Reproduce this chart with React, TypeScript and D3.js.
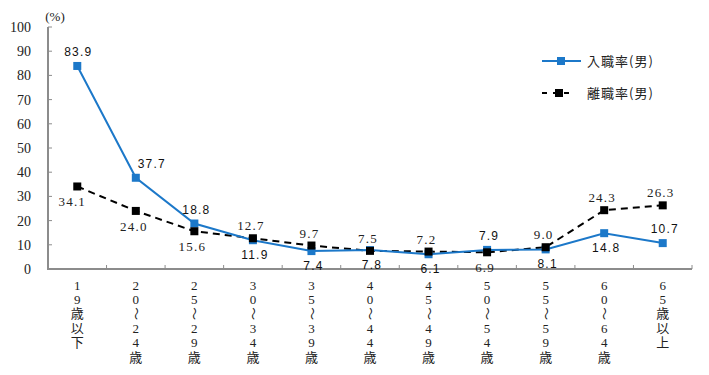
import React, { useEffect, useRef } from 'react';
import * as d3 from 'd3';

const categories = ['19歳以下', '20～24歳', '25～29歳', '30～34歳', '35～39歳', '40～44歳', '45～49歳', '50～54歳', '55～59歳', '60～64歳', '65歳以上'];
const hireRate = [83.9, 37.7, 18.8, 11.9, 7.4, 7.8, 6.1, 7.9, 8.1, 14.8, 10.7];
const leaveRate = [34.1, 24.0, 15.6, 12.7, 9.7, 7.5, 7.2, 6.9, 9.0, 24.3, 26.3];
const yTicks = [0, 10, 20, 30, 40, 50, 60, 70, 80, 90, 100];
// label placement: 'a' above, 'b' below the marker
const hirePos = ['a', 'a', 'a', 'b', 'b', 'b', 'b', 'a', 'b', 'b', 'a'];
const leavePos = ['b', 'b', 'b', 'a', 'a', 'a', 'a', 'b', 'a', 'a', 'a'];

const BLUE = '#1c78c9';
const AXIS = '#8c8c8c';
const TEXT = '#222';

const App: React.FC = () => {
  const svgRef = useRef<SVGSVGElement>(null);

  useEffect(() => {
    if (!svgRef.current) return;
    const svg = d3.select(svgRef.current);
    svg.selectAll('*').remove();

    const left = 48, right = 692, top = 27, bottom = 269;

    const x = d3.scaleBand<string>().domain(categories).range([left, right]);
    const y = d3.scaleLinear().domain([0, 100]).range([bottom, top]);
    const cx = (i: number) => (x(categories[i]) as number) + x.bandwidth() / 2;

    // y axis
    svg.append('line')
      .attr('x1', left).attr('x2', left).attr('y1', top).attr('y2', bottom)
      .style('stroke', AXIS).style('stroke-width', 2);
    yTicks.forEach(t => {
      svg.append('line')
        .attr('x1', left).attr('x2', left + 4).attr('y1', y(t)).attr('y2', y(t))
        .style('stroke', AXIS).style('stroke-width', 1);
      svg.append('text')
        .attr('x', 31).attr('y', y(t)).attr('dy', '0.35em')
        .style('text-anchor', 'end')
        .style('font-family', '"Liberation Serif", serif')
        .style('font-size', '14px')
        .style('fill', TEXT)
        .text(t);
    });
    svg.append('text')
      .attr('x', 55).attr('y', 21)
      .style('text-anchor', 'middle')
      .style('font-family', '"Liberation Serif", serif')
      .style('font-size', '13px')
      .style('fill', TEXT)
      .text('(%)');

    // x axis
    svg.append('line')
      .attr('x1', left - 1).attr('x2', right).attr('y1', bottom).attr('y2', bottom)
      .style('stroke', AXIS).style('stroke-width', 2);
    categories.forEach((c, i) => {
      const bx = (x(c) as number) + x.bandwidth();
      svg.append('line')
        .attr('x1', bx).attr('x2', bx).attr('y1', bottom).attr('y2', bottom - 4)
        .style('stroke', AXIS).style('stroke-width', 1);

      Array.from(c).forEach((ch, k) => {
        const ty = 285 + k * 14.4;
        const t = svg.append('text')
          .attr('x', cx(i)).attr('y', ty).attr('dy', '0.35em')
          .style('text-anchor', 'middle')
          .style('font-family', '"Liberation Serif", "Noto Sans CJK JP", serif')
          .style('font-size', '13px')
          .style('fill', TEXT)
          .text(ch);
        if (ch === '～') {
          t.attr('transform', `rotate(90, ${cx(i)}, ${ty})`).attr('dy', '0.3em');
        }
      });
    });

    // leave rate (dashed black)
    const line = d3.line<number>().x((_, i) => cx(i)).y(d => y(d));
    svg.append('path')
      .attr('d', line(leaveRate) as string)
      .style('fill', 'none').style('stroke', '#000').style('stroke-width', 2)
      .style('stroke-dasharray', '7,5');

    // hire rate (solid blue)
    svg.append('path')
      .attr('d', line(hireRate) as string)
      .style('fill', 'none').style('stroke', BLUE).style('stroke-width', 2);

    hireRate.forEach((v, i) => {
      svg.append('rect')
        .attr('x', cx(i) - 4).attr('y', y(v) - 4).attr('width', 8).attr('height', 8)
        .style('fill', BLUE);
    });
    leaveRate.forEach((v, i) => {
      svg.append('rect')
        .attr('x', cx(i) - 4).attr('y', y(v) - 4).attr('width', 8).attr('height', 8)
        .style('fill', '#000');
    });

    // data labels
    hireRate.forEach((v, i) => {
      const above = hirePos[i] === 'a';
      const dx = i === 1 ? 16 : (i === 0 ? 1 : 2);
      svg.append('text')
        .attr('x', cx(i) + dx).attr('y', y(v) + (above ? -10 : 19))
        .style('text-anchor', 'middle')
        .style('font-family', '"Liberation Sans", sans-serif')
        .style('font-size', '12px')
        .style('letter-spacing', '1.2px')
        .style('fill', '#111')
        .text(v.toFixed(1));
    });
    leaveRate.forEach((v, i) => {
      const above = leavePos[i] === 'a';
      svg.append('text')
        .attr('x', cx(i) - (i === 0 ? 5 : 2)).attr('y', y(v) + (above ? -8 : 20))
        .style('text-anchor', 'middle')
        .style('font-family', '"Liberation Serif", serif')
        .style('font-size', '13px')
        .style('letter-spacing', '1.2px')
        .style('fill', TEXT)
        .text(v.toFixed(1));
    });

    // legend
    const lg = svg.append('g');
    lg.append('line').attr('x1', 542).attr('x2', 581).attr('y1', 61).attr('y2', 61)
      .style('stroke', BLUE).style('stroke-width', 2);
    lg.append('rect').attr('x', 557).attr('y', 57).attr('width', 8).attr('height', 8).style('fill', BLUE);
    lg.append('text').attr('x', 587).attr('y', 61).attr('dy', '0.35em')
      .style('font-family', '"Noto Sans CJK JP", sans-serif').style('font-size', '13px')
      .style('letter-spacing', '1px').style('fill', TEXT)
      .text('入職率(男)');

    lg.append('line').attr('x1', 542).attr('x2', 574).attr('y1', 93).attr('y2', 93)
      .style('stroke', '#000').style('stroke-width', 2).style('stroke-dasharray', '5,6');
    lg.append('rect').attr('x', 555).attr('y', 89).attr('width', 8).attr('height', 8).style('fill', '#000');
    lg.append('text').attr('x', 587).attr('y', 93).attr('dy', '0.35em')
      .style('font-family', '"Noto Sans CJK JP", sans-serif').style('font-size', '13px')
      .style('letter-spacing', '1px').style('fill', TEXT)
      .text('離職率(男)');
  }, []);

  return (
    <div style={{ position: 'fixed', left: 0, top: 0, background: '#fff' }}>
      <svg ref={svgRef} width={709} height={375}></svg>
    </div>
  );
};

export default App;
